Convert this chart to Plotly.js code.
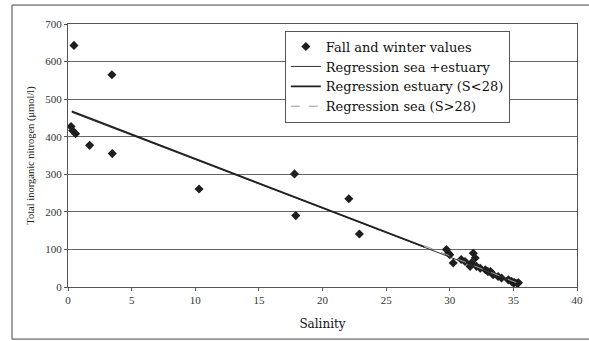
<!DOCTYPE html>
<html><head><meta charset="utf-8">
<script src="https://cdn.plot.ly/plotly-3.0.1.min.js"></script>
<style>html,body{margin:0;padding:0;background:#fff;}#c{width:589px;height:341px;}</style>
</head><body><div id="c"></div>
<script>
// Fall and winter observations
const salinity = [0.24,0.47,0.37,0.6,1.7,3.45,3.48,10.3,17.8,17.9,22.07,22.9,
  29.74,29.9,30.0,30.27,30.9,31.2,31.85,32.0,31.7,32.1,31.6,32.4,32.8,33.0,33.2,33.4,33.8,34.07,34.6,34.85,35.1,35.4,35.0,35.3];
const nitrogen = [427,643,416,408,377,565,355,261,301,190,235,141,
  100,90,86,64,73,68,90,77,64,55,55,50,46,41,41,33,28,24,19,15,12,11,11,10];
// Regression line end points
const regAllX = [0.3, 35.3];
const regAllY = [465, 11];
const regEstX = [0.3, 28];
const regEstY = [468, 107];
const regSeaX = [28, 35.5];
const regSeaY = [110, 8];
const xTicks = [0,5,10,15,20,25,30,35,40];
const yTicks = [0,100,200,300,400,500,600,700];

const fnt = 'Liberation Serif, serif';
const lfnt = 'DejaVu Serif, serif';
const data = [
  {x: salinity, y: nitrogen, mode: 'markers', type: 'scatter', name: 'Fall and winter values',
   marker: {symbol: 'diamond', size: 7, color: '#1e1e1e'}},
  {x: regAllX, y: regAllY, mode: 'lines', type: 'scatter', name: 'Regression sea +estuary',
   line: {color: '#333', width: 1}},
  {x: regEstX, y: regEstY, mode: 'lines', type: 'scatter', name: 'Regression estuary (S<28)',
   line: {color: '#1e1e1e', width: 1.6}},
  {x: regSeaX, y: regSeaY, mode: 'lines', type: 'scatter', name: 'Regression sea (S>28)',
   line: {color: '#999', width: 1, dash: 'dash'}}
];
const layout = {
  width: 589, height: 341,
  margin: {l: 68, r: 12, t: 24, b: 54},
  paper_bgcolor: '#fff', plot_bgcolor: '#fff',
  showlegend: true,
  legend: {x: 0.426, y: 0.975, xanchor: 'left', yanchor: 'top',
    bgcolor: '#fff', bordercolor: '#555', borderwidth: 1,
    font: {family: lfnt, size: 13, color: '#111'}, tracegroupgap: 0, itemwidth: 30},
  xaxis: {range: [0, 40], tickvals: xTicks, ticktext: xTicks.map(String),
    showgrid: false, zeroline: false, showline: true, linecolor: '#555', linewidth: 1, mirror: true,
    ticks: 'outside', ticklen: 3, tickcolor: '#555',
    tickfont: {family: fnt, size: 11, color: '#333'},
    title: {text: 'Salinity', font: {family: lfnt, size: 12, color: '#111'}, standoff: 14}},
  yaxis: {range: [0, 700], tickvals: yTicks, ticktext: yTicks.map(String),
    showgrid: true, gridcolor: '#666', gridwidth: 1, zeroline: false,
    showline: true, linecolor: '#555', linewidth: 1, mirror: true,
    ticks: 'outside', ticklen: 3, tickcolor: '#555',
    tickfont: {family: fnt, size: 11, color: '#333'},
    title: {text: 'Total inorganic nitrogen (μmol/l)', font: {family: fnt, size: 10.5, color: '#222'}, standoff: 8}},
  shapes: [{type: 'rect', xref: 'paper', yref: 'paper', x0: -0.11, x1: 1.04, y0: -0.198, y1: 1.072,
    line: {color: '#444', width: 1}, fillcolor: 'rgba(0,0,0,0)'}]
};
Plotly.newPlot('c', data, layout, {staticPlot: true});
</script></body></html>
